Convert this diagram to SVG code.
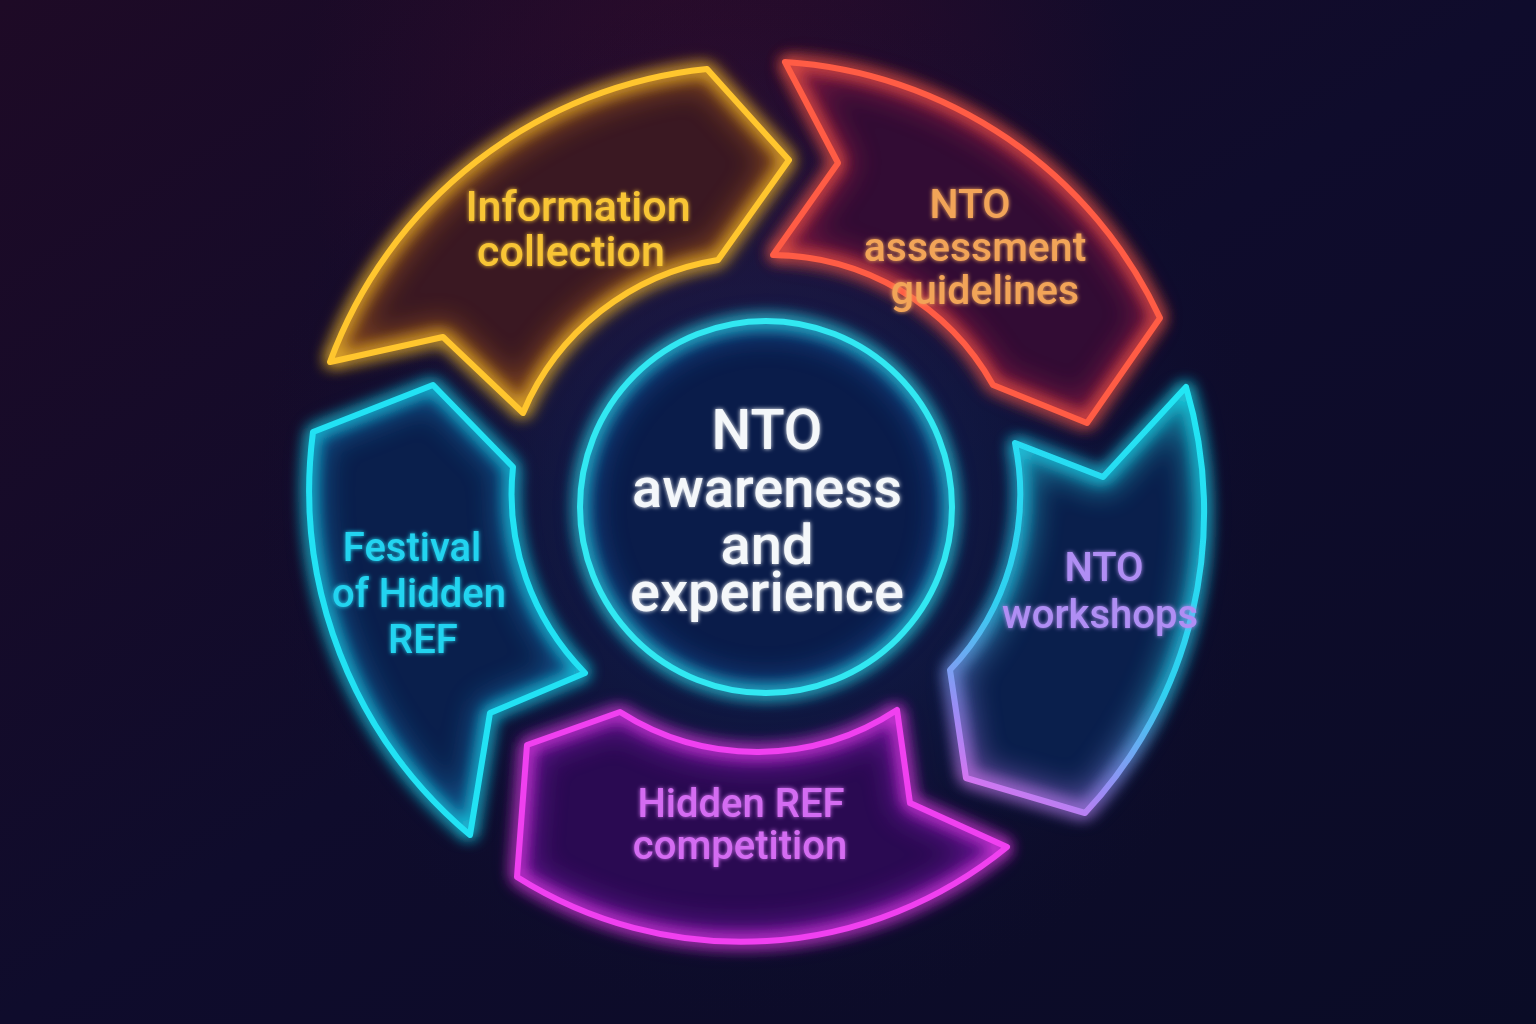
<svg xmlns="http://www.w3.org/2000/svg" xmlns:xlink="http://www.w3.org/1999/xlink" width="1536" height="1024" viewBox="0 0 1536 1024">
<style>
.seg{stroke-width:6;stroke-linejoin:round;fill:none}
.inner{fill:none;stroke-width:34;stroke-linejoin:round;opacity:0.45}
.lbl{font-family:Roboto,"Noto Sans","Liberation Sans",sans-serif;font-weight:500;text-anchor:middle}
.ctr{font-family:Roboto,"Noto Sans","Liberation Sans",sans-serif;font-weight:500;text-anchor:middle;fill:#f4f7fa;font-size:56px}
</style>
<defs>
<linearGradient id="bg" x1="0" y1="0" x2="1" y2="1">
<stop offset="0" stop-color="#1e0a26"/>
<stop offset="0.5" stop-color="#0f0c2c"/>
<stop offset="1" stop-color="#0a0c26"/>
</linearGradient>
<radialGradient id="bgglow" cx="766" cy="507" r="520" gradientUnits="userSpaceOnUse">
<stop offset="0" stop-color="#14306a" stop-opacity="0.7"/>
<stop offset="0.6" stop-color="#101e50" stop-opacity="0.35"/>
<stop offset="1" stop-color="#0e0c2c" stop-opacity="0"/>
</radialGradient>
<radialGradient id="topglow" cx="720" cy="120" r="420" gradientUnits="userSpaceOnUse">
<stop offset="0" stop-color="#4a0c30" stop-opacity="0.45"/>
<stop offset="1" stop-color="#4a0c30" stop-opacity="0"/>
</radialGradient>
<linearGradient id="wsStroke" x1="1180" y1="390" x2="960" y2="790" gradientUnits="userSpaceOnUse">
<stop offset="0" stop-color="#22e6f4"/>
<stop offset="0.6" stop-color="#30d0f0"/>
<stop offset="0.85" stop-color="#9a8cf4"/>
<stop offset="1" stop-color="#e070f0"/>
</linearGradient>
<filter id="glow" x="-30%" y="-30%" width="160%" height="160%">
<feGaussianBlur in="SourceGraphic" stdDeviation="8" result="b"/>
<feMerge><feMergeNode in="b"/><feMergeNode in="b"/><feMergeNode in="SourceGraphic"/></feMerge>
</filter>
<filter id="soft" x="-30%" y="-30%" width="160%" height="160%">
<feGaussianBlur stdDeviation="14"/>
</filter>
<filter id="tglow" x="-20%" y="-20%" width="140%" height="140%">
<feGaussianBlur in="SourceGraphic" stdDeviation="2" result="b"/>
<feMerge><feMergeNode in="b"/><feMergeNode in="SourceGraphic"/></feMerge>
</filter>
<path id="pInfo" d="M 330,362 A 450 450 0 0 1 707,69 L 789,160 L 718,260 A 255 255 0 0 0 523,413 L 443,337 Z"/>
<path id="pAssess" d="M 785,62 A 445 445 0 0 1 1160,318 L 1087,423 L 993,385 A 255 255 0 0 0 773,255 L 838,163 Z"/>
<path id="pWork" d="M 1186,387 A 440 440 0 0 1 1085,813 L 966,778 L 950,670 A 255 255 0 0 0 1015,443 L 1103,477 Z"/>
<path id="pComp" d="M 527,745 L 620,712 A 255 255 0 0 0 897,710 L 910,803 L 1007,847 A 420 420 0 0 1 517,877 Z"/>
<path id="pFest" d="M 433,385 L 513,467 A 255 255 0 0 0 585,673 L 490,713 L 470,835 A 450 450 0 0 1 313,432 Z"/>
<circle id="pCtr" cx="766" cy="507" r="186"/>
<clipPath id="cInfo"><use xlink:href="#pInfo"/></clipPath>
<clipPath id="cAssess"><use xlink:href="#pAssess"/></clipPath>
<clipPath id="cWork"><use xlink:href="#pWork"/></clipPath>
<clipPath id="cComp"><use xlink:href="#pComp"/></clipPath>
<clipPath id="cFest"><use xlink:href="#pFest"/></clipPath>
<clipPath id="cCtr"><use xlink:href="#pCtr"/></clipPath>
</defs>
<rect width="1536" height="1024" fill="url(#bg)"/>
<rect width="1536" height="1024" fill="url(#topglow)"/>
<rect width="1536" height="1024" fill="url(#bgglow)"/>

<g id="connectors"></g>

<g id="node-info">
<use xlink:href="#pInfo" fill="#c8741a" opacity="0.25" filter="url(#soft)"/>
<g clip-path="url(#cInfo)">
<use xlink:href="#pInfo" fill="#3a1822"/>
<use xlink:href="#pInfo" class="inner" stroke="#d07a1a" filter="url(#soft)"/>
</g>
<use xlink:href="#pInfo" class="seg" stroke="#ffc62e" filter="url(#glow)"/>
<text class="lbl" fill="#f8c535" font-size="43" filter="url(#tglow)"><tspan x="578" y="221">Information</tspan><tspan x="571" y="266">collection</tspan></text>
</g>

<g id="node-assess">
<use xlink:href="#pAssess" fill="#c02a50" opacity="0.25" filter="url(#soft)"/>
<g clip-path="url(#cAssess)">
<use xlink:href="#pAssess" fill="#320c34"/>
<use xlink:href="#pAssess" class="inner" stroke="#c82850" filter="url(#soft)"/>
</g>
<use xlink:href="#pAssess" class="seg" stroke="#ff5c45" filter="url(#glow)"/>
<text class="lbl" fill="#f2a458" font-size="41" filter="url(#tglow)"><tspan x="970" y="218">NTO</tspan><tspan x="975" y="261">assessment</tspan><tspan x="985" y="304">guidelines</tspan></text>
</g>

<g id="node-work">
<use xlink:href="#pWork" fill="#1a60b0" opacity="0.25" filter="url(#soft)"/>
<g clip-path="url(#cWork)">
<use xlink:href="#pWork" fill="#0a1f4c"/>
<use xlink:href="#pWork" class="inner" stroke="url(#wsStroke)" opacity="0.3" filter="url(#soft)"/>
</g>
<use xlink:href="#pWork" class="seg" stroke="url(#wsStroke)" filter="url(#glow)"/>
<text class="lbl" fill="#b08ef4" font-size="40" filter="url(#tglow)"><tspan x="1104" y="581">NTO</tspan><tspan x="1100" y="628">workshops</tspan></text>
</g>

<g id="node-comp">
<use xlink:href="#pComp" fill="#9020c0" opacity="0.25" filter="url(#soft)"/>
<g clip-path="url(#cComp)">
<use xlink:href="#pComp" fill="#2a0a52"/>
<use xlink:href="#pComp" class="inner" stroke="#a020d0" filter="url(#soft)"/>
</g>
<use xlink:href="#pComp" class="seg" stroke="#f040f0" filter="url(#glow)"/>
<text class="lbl" fill="#d46cf2" font-size="40" filter="url(#tglow)"><tspan x="741" y="817">Hidden REF</tspan><tspan x="740" y="859">competition</tspan></text>
</g>

<g id="node-fest">
<use xlink:href="#pFest" fill="#1860b0" opacity="0.25" filter="url(#soft)"/>
<g clip-path="url(#cFest)">
<use xlink:href="#pFest" fill="#0a1f4c"/>
<use xlink:href="#pFest" class="inner" stroke="#1a90d0" opacity="0.3" filter="url(#soft)"/>
</g>
<use xlink:href="#pFest" class="seg" stroke="#22e2f4" filter="url(#glow)"/>
<text class="lbl" fill="#22d4f0" font-size="40" filter="url(#tglow)"><tspan x="412" y="561">Festival</tspan><tspan x="419" y="607">of Hidden</tspan><tspan x="423" y="653">REF</tspan></text>
</g>

<g id="node-center">
<use xlink:href="#pCtr" fill="#1a4a9a" opacity="0.3" filter="url(#soft)"/>
<g clip-path="url(#cCtr)">
<use xlink:href="#pCtr" fill="#0a1c4a"/>
<use xlink:href="#pCtr" class="inner" stroke="#1a70c0" opacity="0.35" filter="url(#soft)"/>
</g>
<use xlink:href="#pCtr" class="seg" stroke="#30e8f2" filter="url(#glow)"/>
<text class="ctr" filter="url(#tglow)"><tspan x="767" y="449">NTO</tspan><tspan x="767" y="507">awareness</tspan><tspan x="767" y="564">and</tspan><tspan x="767" y="611">experience</tspan></text>
</g>
</svg>
